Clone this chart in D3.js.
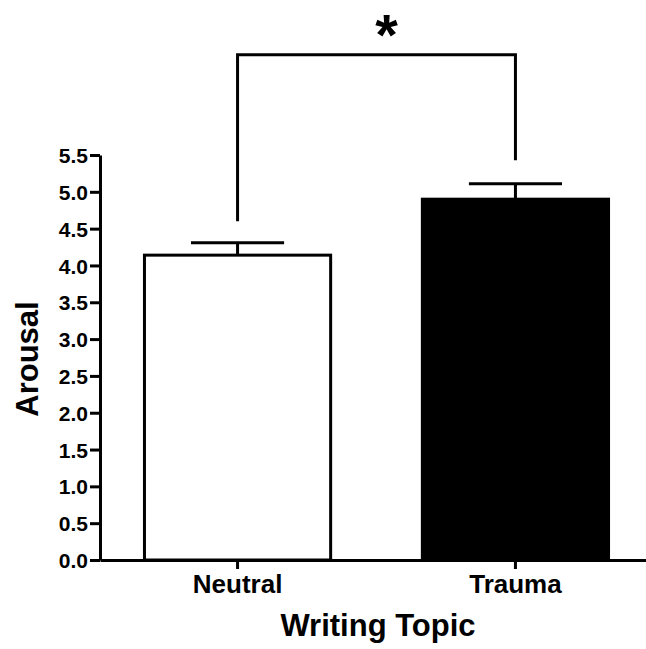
<!DOCTYPE html>
<html>
<head>
<meta charset="utf-8">
<script src="https://cdn.jsdelivr.net/npm/d3@7"></script>
<style>
  body { margin: 0; background: #fff; }
  text { font-family: "Liberation Sans", Arial, sans-serif; font-weight: bold; fill: #000; }
</style>
</head>
<body>
<div id="content"></div>
<script>
// ******* DATA *******
const categories = ["Neutral", "Trauma"];
const means = [4.14, 4.90];
const errors = [0.17, 0.21];
const barFills = ["#fff", "#000"];
const yTicks = [0, 0.5, 1, 1.5, 2, 2.5, 3, 3.5, 4, 4.5, 5, 5.5];
// significance bracket: leg bottoms (per category) and top, in data units
const bracketLegs = [4.6, 5.43];
const bracketTop = 6.86;
const sigLabel = "*";

// ******* LAYOUT *******
const width = 646, height = 649;
const svg = d3.select("#content").append("svg")
    .attr("width", width)
    .attr("height", height);

const x = d3.scaleBand()
    .domain(categories)
    .range([100, 653])
    .paddingInner(0.33)
    .paddingOuter(0.16);

const y = d3.scaleLinear()
    .domain([0, 5.5])
    .range([560, 155]);

// bars
svg.append("g").selectAll("rect")
    .data(categories)
    .join("rect")
    .attr("x", d => x(d))
    .attr("y", (d, i) => y(means[i]))
    .attr("width", x.bandwidth())
    .attr("height", (d, i) => y(0) - y(means[i]))
    .attr("fill", (d, i) => barFills[i])
    .attr("stroke", "#000")
    .attr("stroke-width", 3);

// error bars (upper only)
const capHalf = x.bandwidth() * 0.25;
const eb = svg.append("g").attr("stroke", "#000").attr("stroke-width", 3);
categories.forEach((c, i) => {
    const cx = x(c) + x.bandwidth() / 2;
    eb.append("line")
        .attr("x1", cx).attr("x2", cx)
        .attr("y1", y(means[i])).attr("y2", y(means[i] + errors[i]));
    eb.append("line")
        .attr("x1", cx - capHalf).attr("x2", cx + capHalf)
        .attr("y1", y(means[i] + errors[i])).attr("y2", y(means[i] + errors[i]));
});

// y axis
const yAxis = svg.append("g")
    .attr("transform", "translate(100,0)")
    .call(d3.axisLeft(y).tickValues(yTicks).tickFormat(d3.format(".1f")).tickSize(10).tickPadding(2).tickSizeOuter(0));
yAxis.select(".domain").attr("stroke-width", 3);
yAxis.selectAll(".tick line").attr("stroke-width", 3);
yAxis.selectAll(".tick text").style("font-size", "21px").attr("dy", "0.36em");

// x axis
const xAxis = svg.append("g")
    .attr("transform", "translate(0,560)")
    .call(d3.axisBottom(x).tickSize(9).tickPadding(6).tickSizeOuter(0));
xAxis.select(".domain").attr("stroke-width", 3);
xAxis.selectAll(".tick line").attr("stroke-width", 3);
xAxis.selectAll(".tick text").style("font-size", "26px");

// axis titles
svg.append("text")
    .attr("x", 378).attr("y", 636)
    .attr("text-anchor", "middle")
    .style("font-size", "31px")
    .text("Writing Topic");

svg.append("text")
    .attr("transform", "translate(38,359) rotate(-90)")
    .attr("text-anchor", "middle")
    .style("font-size", "31px")
    .text("Arousal");

// significance bracket
const bx = categories.map(c => x(c) + x.bandwidth() / 2);
svg.append("path")
    .attr("d", d3.line()([
        [bx[0], y(bracketLegs[0])],
        [bx[0], y(bracketTop)],
        [bx[1], y(bracketTop)],
        [bx[1], y(bracketLegs[1])]
    ]))
    .attr("fill", "none")
    .attr("stroke", "#000")
    .attr("stroke-width", 3);

svg.append("text")
    .attr("x", (bx[0] + bx[1]) / 2 + 10)
    .attr("y", 55)
    .attr("text-anchor", "middle")
    .style("font-size", "58px")
    .text(sigLabel);
</script>
</body>
</html>
